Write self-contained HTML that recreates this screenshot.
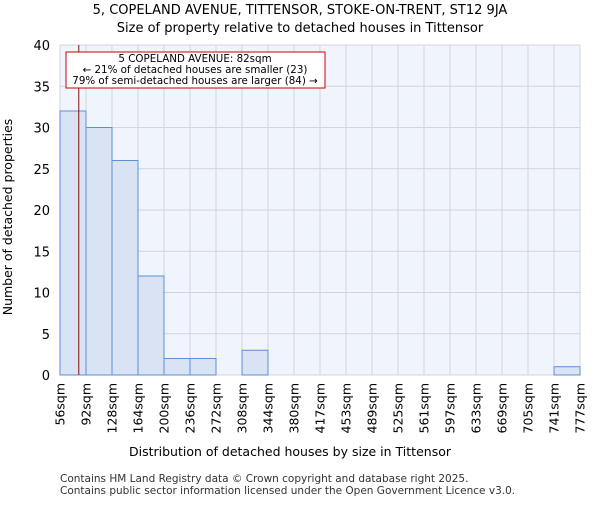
<!DOCTYPE html>
<html><head><meta charset="utf-8"><style>
body{margin:0;background:#fff;}
svg text{font-family:"DejaVu Sans","Liberation Sans",sans-serif;}
</style></head><body>
<svg id="chart" width="600" height="500" xmlns="http://www.w3.org/2000/svg">
<text x="300" y="14" text-anchor="middle" font-size="13">5, COPELAND AVENUE, TITTENSOR, STOKE-ON-TRENT, ST12 9JA</text>
<text x="300" y="32" text-anchor="middle" font-size="13">Size of property relative to detached houses in Tittensor</text>
<rect x="60" y="45" width="520" height="330" fill="#f0f4fc"/>
<g id="grid"></g>
<g id="bars"></g>
<g id="axes"></g>
<text x="290" y="456" text-anchor="middle" font-size="12.5">Distribution of detached houses by size in Tittensor</text>
<text transform="translate(12,217) rotate(-90)" text-anchor="middle" font-size="12.5">Number of detached properties</text>
<g>
<rect x="66" y="52" width="259" height="36" fill="#fff" stroke="#c00" stroke-width="1"/>
<text x="195" y="62" text-anchor="middle" font-size="10.3">5 COPELAND AVENUE: 82sqm</text>
<text x="195" y="73" text-anchor="middle" font-size="10.3">← 21% of detached houses are smaller (23)</text>
<text x="195" y="84" text-anchor="middle" font-size="10.3">79% of semi-detached houses are larger (84) →</text>
</g>
<text x="60" y="482" font-size="10.5" fill="#333">Contains HM Land Registry data © Crown copyright and database right 2025.</text>
<text x="60" y="494" font-size="10.5" fill="#333">Contains public sector information licensed under the Open Government Licence v3.0.</text>
</svg>
<script>
const binLabels=["56sqm","92sqm","128sqm","164sqm","200sqm","236sqm","272sqm","308sqm","344sqm","380sqm","417sqm","453sqm","489sqm","525sqm","561sqm","597sqm","633sqm","669sqm","705sqm","741sqm","777sqm"];
const counts=[32,30,26,12,2,2,0,3,0,0,0,0,0,0,0,0,0,0,0,1];
const yTicks=[0,5,10,15,20,25,30,35,40];
const propertySize=82;
const binStart=56, binWidth=36;
const NS="http://www.w3.org/2000/svg";
const L=60,T=45,W=520,H=330,yMax=40;
const nb=counts.length;
const xPos=i=>L+i*W/nb;
const yPos=v=>T+H-v/yMax*H;
function mk(tag,attrs,parent){const e=document.createElementNS(NS,tag);for(const k in attrs)e.setAttribute(k,attrs[k]);parent.appendChild(e);return e;}
const grid=document.getElementById('grid'),bars=document.getElementById('bars'),axes=document.getElementById('axes');
yTicks.forEach(v=>{
 const l=mk('line',{x1:L,x2:L+W,y1:yPos(v),y2:yPos(v),stroke:'#d4d4d8','stroke-width':1},grid);
 
 
 const t=mk('text',{x:L-10,y:yPos(v)+5,'text-anchor':'end','font-size':13},axes);
 t.textContent=v;
 
 
});
binLabels.forEach((s,i)=>{
 const x=xPos(i);
 const l=mk('line',{x1:x,x2:x,y1:T,y2:T+H,stroke:'#d4d4d8','stroke-width':1},grid);
 
 
 const t=mk('text',{x:0,y:0,'text-anchor':'end','font-size':12.5,transform:`translate(${x+4.5},${T+H+8}) rotate(-90)`},axes);
 t.textContent=s;
 
 
});
counts.forEach((c,i)=>{
 if(c<=0)return;
 const r=mk('rect',{x:xPos(i),y:yPos(c),width:W/nb,height:yPos(0)-yPos(c),fill:'#dae3f3',stroke:'#5b8fd6','stroke-width':1},bars);
 
 
});
const px=L+(propertySize-binStart)/binWidth*(W/nb);
const ml=mk('line',{x1:px,x2:px,y1:T,y2:T+H,stroke:'#8b1010','stroke-width':1},bars);


</script>
</body></html>
